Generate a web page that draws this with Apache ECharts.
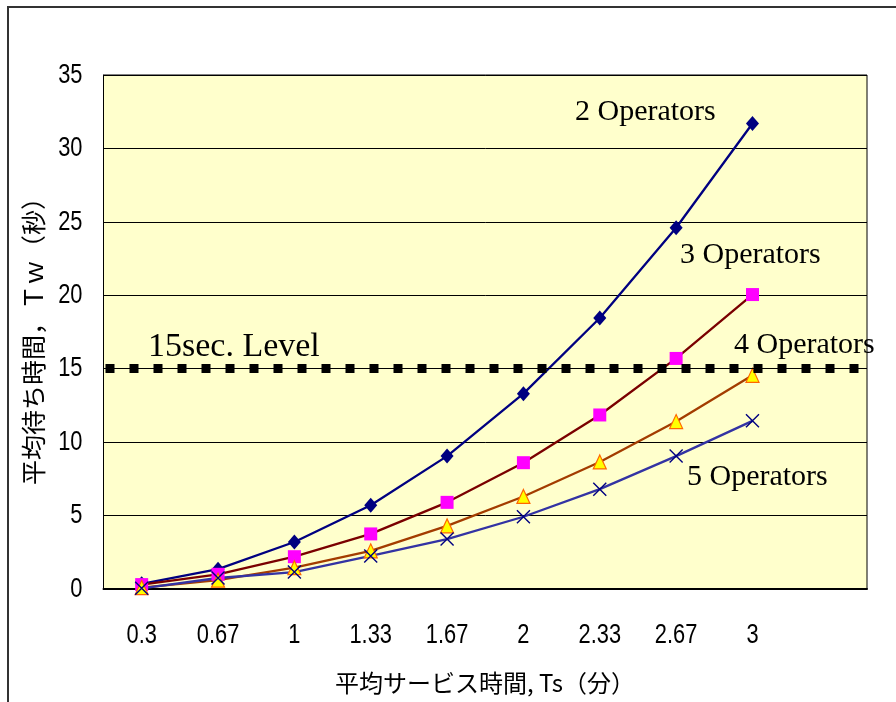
<!DOCTYPE html>
<html>
<head>
<meta charset="utf-8">
<script src="https://cdn.jsdelivr.net/npm/echarts@6/dist/echarts.min.js"></script>
<style>
  html, body { margin: 0; padding: 0; background: #fff; }
  #chart { width: 896px; height: 702px; }
</style>
</head>
<body>
<div id="chart"></div>
<script>
// Mean service time (minutes); the trailing blank slot keeps room on the right
const serviceTimes = ['0.3', '0.67', '1', '1.33', '1.67', '2', '2.33', '2.67', '3', ''];

// Waiting-time axis ticks (seconds)
const waitTicks = [0, 5, 10, 15, 20, 25, 30, 35];

// Mean waiting time (seconds) by number of operators
const twoOperators   = [0.35, 1.35, 3.2, 5.7, 9.05, 13.3, 18.45, 24.6, 31.7];
const threeOperators = [0.3, 1.0, 2.2, 3.75, 5.9, 8.6, 11.85, 15.7, 20.05];
const fourOperators  = [0.1, 0.6, 1.45, 2.6, 4.3, 6.3, 8.65, 11.4, 14.55];
const fiveOperators  = [0.05, 0.75, 1.15, 2.25, 3.4, 4.92, 6.8, 9.05, 11.45];

// Target waiting-time level (seconds)
const levelValue = 15;

const seriesNames = ['2 Operators', '3 Operators', '4 Operators', '5 Operators'];
const yAxisName = '平均待ち時間，Ｔｗ（秒）';
const xAxisName = '平均サービス時間, Ts（分）';
const levelLabel = '15sec. Level';

const tickFont = "'Liberation Sans', 'Noto Sans', sans-serif";
const cjkFont = "'Noto Sans CJK JP', sans-serif";
const serifFont = "'Liberation Serif', 'Times New Roman', serif";

const chart = echarts.init(document.getElementById('chart'), null, { renderer: 'canvas' });

function lineSeries(name, data, lineColor, symbol, symbolSize, itemStyle) {
  return {
    name: name,
    type: 'line',
    data: data,
    symbol: symbol,
    symbolSize: symbolSize,
    showAllSymbol: true,
    lineStyle: { color: lineColor, width: 2.3 },
    itemStyle: itemStyle,
    emphasis: { disabled: true },
    z: 3
  };
}

const crossPath = 'path://M0,0L10,10M10,0L0,10';

function textEl(text, x, y, font, align, extra) {
  return Object.assign({
    type: 'text', x: x, y: y, silent: true, z: 10,
    style: { text: text, font: font, fill: '#000', align: align, verticalAlign: 'middle' }
  }, extra || {});
}

chart.setOption({
  animation: false,
  backgroundColor: '#ffffff',
  grid: {
    left: 103.5, right: 29, top: 75, bottom: 113,
    show: true,
    backgroundColor: '#FFFFCC',
    borderColor: '#000',
    borderWidth: 1
  },
  xAxis: {
    type: 'category',
    data: serviceTimes,
    boundaryGap: true,
    axisLine: { lineStyle: { color: '#000', width: 2 } },
    axisTick: { inside: true, length: 10, lineStyle: { color: '#000', width: 1.3 } },
    axisLabel: { show: false },
    splitLine: { show: false }
  },
  yAxis: {
    type: 'value',
    min: 0, max: 35, interval: 5,
    axisLine: { show: true, lineStyle: { color: '#000', width: 1 } },
    axisTick: { show: false },
    axisLabel: { show: false },
    splitLine: { lineStyle: { color: '#000', width: 1 } }
  },
  series: [
    Object.assign(
      lineSeries(seriesNames[0], twoOperators, '#000080', 'diamond', [13, 15],
        { color: '#000080' }),
      {
        markLine: {
          silent: true,
          symbol: 'none',
          label: { show: false },
          data: [
            { yAxis: levelValue, lineStyle: { color: '#000', width: 1, type: 'solid' } },
            { yAxis: levelValue, lineStyle: { color: '#000', width: 9, type: [9, 15], dashOffset: -2, cap: 'butt' } }
          ]
        }
      }
    ),
    lineSeries(seriesNames[1], threeOperators, '#7A0000', 'rect', 13, { color: '#FF00FF' }),
    lineSeries(seriesNames[2], fourOperators, '#A33C00', 'triangle', [13, 14],
      { color: '#FFFF00', borderColor: '#FF6600', borderWidth: 1.2 }),
    lineSeries(seriesNames[3], fiveOperators, '#3333A3', crossPath, 13,
      { color: 'none', borderColor: '#000080', borderWidth: 1.4 })
  ]
});

// Tick labels in a narrowed face, placed through the axes' own scales
const tickLabelFont = '400 28px ' + tickFont;
const narrow = 0.78;
const measureCtx = document.createElement('canvas').getContext('2d');
measureCtx.font = tickLabelFont;

const graphics = [
  {
    type: 'rect', silent: true, z: -1,
    shape: { x: 8, y: 7, width: 900, height: 710 },
    style: { fill: 'none', stroke: '#333', lineWidth: 2 }
  },
  textEl(yAxisName, 33, 335, '400 25px ' + cjkFont, 'center', { rotation: Math.PI / 2 }),
  textEl(xAxisName, 485, 683, '400 24px ' + cjkFont, 'center'),
  textEl(levelLabel, 148, 347, '400 34px ' + serifFont, 'left'),
  textEl(seriesNames[0], 575, 112, '400 30px ' + serifFont, 'left'),
  textEl(seriesNames[1], 680, 255, '400 30px ' + serifFont, 'left'),
  textEl(seriesNames[2], 734, 345, '400 30px ' + serifFont, 'left'),
  textEl(seriesNames[3], 687, 477, '400 30px ' + serifFont, 'left')
];

// Category centres, and the left edge of the plot half a band before the first one
const firstCenter = chart.convertToPixel({ xAxisIndex: 0 }, 0);
const band = chart.convertToPixel({ xAxisIndex: 0 }, 1) - firstCenter;
const axisLeft = firstCenter - band / 2;
const axisBottom = chart.convertToPixel({ yAxisIndex: 0 }, 0);

serviceTimes.forEach(function (cat, i) {
  if (!cat) return;
  const px = chart.convertToPixel({ xAxisIndex: 0 }, i);
  graphics.push(textEl(cat, px, axisBottom + 46, tickLabelFont, 'center', { scaleX: narrow }));
});

waitTicks.forEach(function (v) {
  const label = String(v);
  const py = chart.convertToPixel({ yAxisIndex: 0 }, v);
  const halfWidth = measureCtx.measureText(label).width * narrow / 2;
  graphics.push(textEl(label, axisLeft - 21 - halfWidth, py, tickLabelFont, 'center', { scaleX: narrow }));
});

chart.setOption({ graphic: graphics });
</script>
</body>
</html>
